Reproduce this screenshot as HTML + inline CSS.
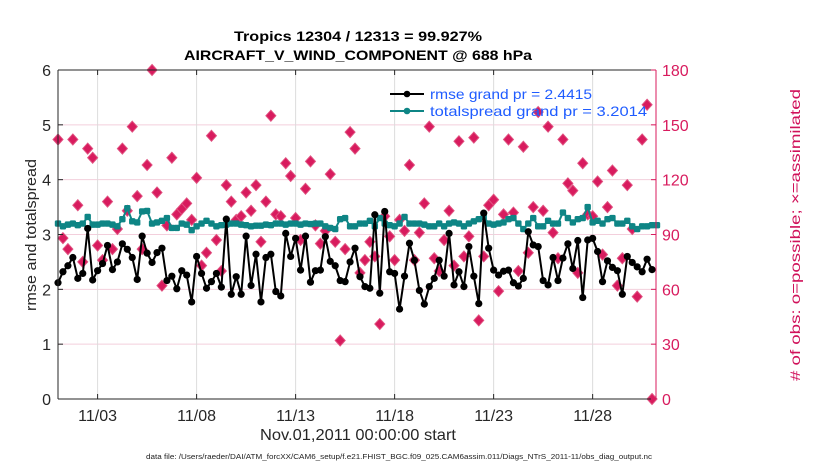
<!DOCTYPE html>
<html><head><meta charset="utf-8"><style>
html,body{margin:0;padding:0;background:#fff;}
svg{display:block;font-family:"Liberation Sans",sans-serif;}
</style></head><body>
<svg id="chart" width="830" height="470" viewBox="0 0 830 470" xmlns="http://www.w3.org/2000/svg">
<rect width="830" height="470" fill="#fff"/>
<g id="grid"></g>
<g id="marks"></g>
<g id="axes"></g>
<text x="358" y="41" text-anchor="middle" font-size="14" font-weight="bold" textLength="248" lengthAdjust="spacingAndGlyphs">Tropics 12304 / 12313 = 99.927%</text>
<text x="358" y="60" text-anchor="middle" font-size="14" font-weight="bold" textLength="348" lengthAdjust="spacingAndGlyphs">AIRCRAFT_V_WIND_COMPONENT @ 688 hPa</text>
<text transform="translate(36,235) rotate(-90)" text-anchor="middle" font-size="15" fill="#262626" textLength="152" lengthAdjust="spacingAndGlyphs">rmse and totalspread</text>
<text transform="translate(800,235) rotate(-90)" text-anchor="middle" font-size="14" fill="#d0115a" textLength="292" lengthAdjust="spacingAndGlyphs"># of obs: o=possible; ×=assimilated</text>
<text x="358" y="440" text-anchor="middle" font-size="16" fill="#262626" textLength="196" lengthAdjust="spacingAndGlyphs">Nov.01,2011 00:00:00 start</text>
<text x="399" y="459" text-anchor="middle" font-size="7" fill="#222" textLength="506" lengthAdjust="spacingAndGlyphs">data file: /Users/raeder/DAI/ATM_forcXX/CAM6_setup/f.e21.FHIST_BGC.f09_025.CAM6assim.011/Diags_NTrS_2011-11/obs_diag_output.nc</text>
<g id="legend"></g>
</svg>
<script>
const rmse=[2.12,2.32,2.43,2.58,2.20,2.29,3.11,2.17,2.34,2.47,2.80,2.36,2.50,2.83,2.73,2.58,2.18,2.97,2.66,2.49,2.67,2.75,2.16,2.24,2.01,2.34,2.26,1.77,2.60,2.29,2.02,
2.14,2.29,2.04,3.28,1.91,2.23,1.91,2.97,2.07,2.64,1.77,2.58,2.64,1.96,1.88,3.02,2.60,2.93,2.35,2.97,2.13,2.34,2.35,2.96,2.51,2.43,2.16,2.14,2.50,2.75,
2.23,2.05,2.02,3.36,1.93,3.42,2.32,2.29,1.64,2.24,2.84,2.53,1.98,1.73,2.05,2.20,2.53,2.24,3.02,2.08,2.32,2.05,2.78,2.24,1.74,3.39,2.75,2.35,2.26,2.33,
2.35,2.12,2.06,2.20,3.05,2.81,2.78,2.16,2.08,2.58,2.16,2.57,2.83,2.38,2.89,1.85,2.90,2.93,2.69,2.14,2.52,2.40,2.34,1.91,2.60,2.49,2.41,2.32,2.55,2.36];
const spread=[3.2,3.15,3.18,3.2,3.17,3.2,3.32,3.18,3.18,3.2,3.2,3.18,3.15,3.28,3.48,3.24,3.22,3.42,3.43,3.2,3.22,3.25,3.3,3.12,3.12,3.2,3.18,3.08,3.15,3.2,3.25,
3.2,3.15,3.17,3.18,3.2,3.2,3.18,3.17,3.15,3.16,3.16,3.18,3.17,3.2,3.2,3.18,3.2,3.2,3.18,3.2,3.19,3.2,3.2,3.15,3.12,3.1,3.28,3.3,3.15,3.15,
3.2,3.2,3.25,3.15,3.3,3.2,3.17,3.15,3.2,3.32,3.2,3.2,3.2,3.18,3.15,3.15,3.2,3.15,3.2,3.22,3.2,3.15,3.2,3.24,3.28,3.32,3.2,3.18,3.2,3.22,
3.28,3.3,3.2,3.1,3.2,3.3,3.15,3.15,3.25,3.2,3.2,3.4,3.3,3.22,3.28,3.3,3.5,3.22,3.25,3.2,3.28,3.3,3.2,3.2,3.25,3.15,3.1,3.15,3.15,3.17,3.17];
const nobs=[142,88,82,142,106,75,137,132,84,76,108,82,93,137,103,149,111,82,128,180,113,62,95,132,101,104,107,98,121,73,80,
144,87,70,117,108,98,100,113,103,117,86,108,155,101,100,129,122,99,87,115,130,95,85,92,123,86,32,82,146,137,
69,76,86,78,41,100,89,76,98,92,128,76,91,107,149,77,70,87,103,73,141,78,89,143,43,78,106,109,59,101,
142,102,70,138,80,105,157,103,149,91,77,142,118,114,69,129,101,100,119,79,105,125,62,77,117,93,56,142,161,0];
const xTickDays=[2,7,12,17,22,27];
const xTickLabels=["11/03","11/08","11/13","11/18","11/23","11/28"];
const yTicks=[0,1,2,3,4,5,6];
const yRightTicks=[0,30,60,90,120,150,180];

const NS="http://www.w3.org/2000/svg";
const L=58,R=656,T=70,B=399,DAYMAX=30.2;
const xd=d=>L+(R-L)*d/DAYMAX;
const xi=i=>xd(i*0.25);
const yl=v=>B-(B-T)*v/6;
const yr=v=>B-(B-T)*v/180;
function mk(tag,attrs,parent){const e=document.createElementNS(NS,tag);for(const k in attrs)e.setAttribute(k,attrs[k]);parent.appendChild(e);return e;}
const grid=document.getElementById('grid'),marks=document.getElementById('marks'),axes=document.getElementById('axes'),leg=document.getElementById('legend');

yTicks.forEach(v=>{if(v>0&&v<6)mk('line',{x1:L,x2:R,y1:yl(v),y2:yl(v),stroke:'#f3cfdc','stroke-width':1},grid);});
xTickDays.forEach(d=>mk('line',{x1:xd(d),x2:xd(d),y1:T,y2:B,stroke:'#dcdcdc','stroke-width':1},grid));

// obs markers
nobs.forEach((v,i)=>{
  const x=xi(i),y=yr(v);
  const d=mk('path',{d:`M${x} ${y-5.5}L${x+5} ${y}L${x} ${y+5.5}L${x-5} ${y}Z`,fill:'#d81b5e',stroke:'#e0507f','stroke-width':1},marks);
  
  
});
// spread line
let p=spread.map((v,i)=>(i?'L':'M')+xi(i).toFixed(1)+' '+yl(v).toFixed(1)).join('');
const sl=mk('path',{d:p,fill:'none',stroke:'#0e8585','stroke-width':2},marks);


spread.forEach((v,i)=>{const c=mk('rect',{x:xi(i)-3.2,y:yl(v)-3.2,width:6.4,height:6.4,rx:1.5,fill:'#0e8585'},marks);
  
  });
// rmse line
p=rmse.map((v,i)=>(i?'L':'M')+xi(i).toFixed(1)+' '+yl(v).toFixed(1)).join('');
const rl=mk('path',{d:p,fill:'none',stroke:'#000','stroke-width':2},marks);


rmse.forEach((v,i)=>{const c=mk('circle',{cx:xi(i),cy:yl(v),r:3.6,fill:'#000'},marks);
  
  });

// legend (on top of marks)
mk('line',{x1:390,y1:94,x2:424,y2:94,stroke:'#000','stroke-width':2},leg);
mk('circle',{cx:407,cy:94,r:3.3,fill:'#000'},leg);
let lt=mk('text',{x:430,y:99,'font-size':14,fill:'#1f5cff',textLength:162,lengthAdjust:'spacingAndGlyphs'},leg);
lt.textContent='rmse grand pr = 2.4415';


mk('line',{x1:390,y1:111,x2:424,y2:111,stroke:'#0e8585','stroke-width':2},leg);
mk('circle',{cx:407,cy:111,r:3.3,fill:'#0e8585'},leg);
lt=mk('text',{x:430,y:116,'font-size':14,fill:'#1f5cff',textLength:217,lengthAdjust:'spacingAndGlyphs'},leg);
lt.textContent='totalspread grand pr = 3.2014';



// axes
mk('line',{x1:L,x2:R,y1:T,y2:T,stroke:'#262626','stroke-width':1},axes);
mk('line',{x1:L,x2:R,y1:B,y2:B,stroke:'#262626','stroke-width':1},axes);
mk('line',{x1:L,x2:L,y1:T,y2:B,stroke:'#262626','stroke-width':1},axes);
mk('line',{x1:R,x2:R,y1:T,y2:B,stroke:'#d81b5e','stroke-width':1},axes);
yTicks.forEach(v=>{
  mk('line',{x1:L,x2:L+5,y1:yl(v),y2:yl(v),stroke:'#262626'},axes);
  const t=mk('text',{x:L-7,y:yl(v)+6,'text-anchor':'end','font-size':16,fill:'#262626'},axes);
  t.textContent=v;
  
  
});
yRightTicks.forEach(v=>{
  mk('line',{x1:R-5,x2:R,y1:yr(v),y2:yr(v),stroke:'#d81b5e'},axes);
  const t=mk('text',{x:R+6,y:yr(v)+6,'font-size':16,fill:'#d81b5e'},axes);
  t.textContent=v;
  
  
});
xTickDays.forEach((d,k)=>{
  mk('line',{x1:xd(d),x2:xd(d),y1:B,y2:B-5,stroke:'#262626'},axes);
  mk('line',{x1:xd(d),x2:xd(d),y1:T,y2:T+5,stroke:'#262626'},axes);
  const t=mk('text',{x:xd(d),y:421,'text-anchor':'middle','font-size':16,fill:'#262626'},axes);
  t.textContent=xTickLabels[k];
  
  
});
</script>
</body></html>
